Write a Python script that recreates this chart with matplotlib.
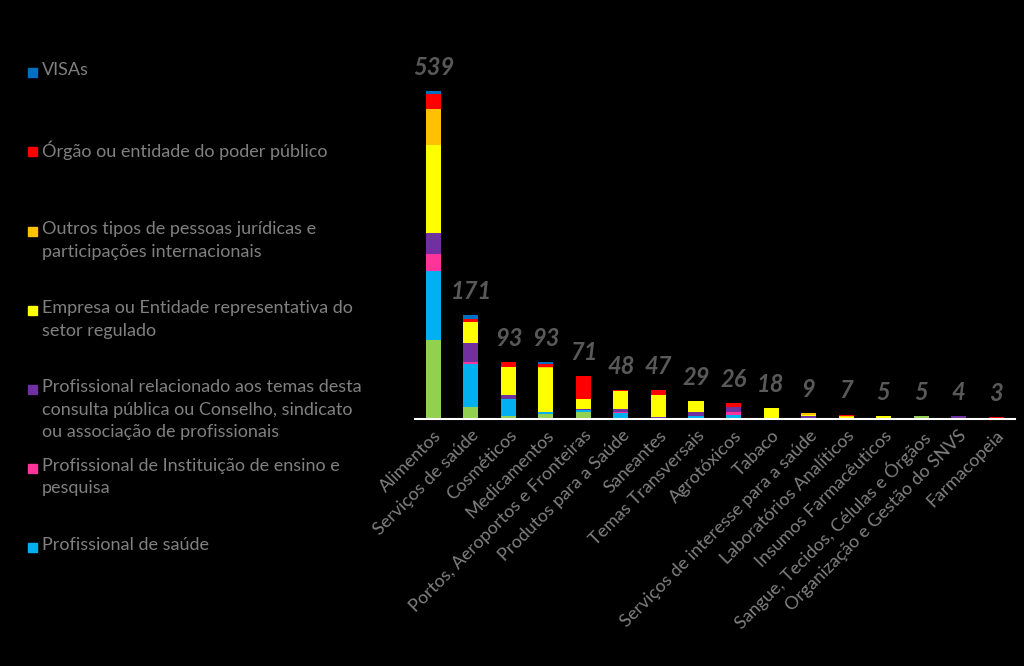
import matplotlib.pyplot as plt
import numpy as np
from matplotlib.patches import Rectangle

plt.rcParams['font.family'] = ['Lato', 'DejaVu Sans']

categories = ['Alimentos', 'Serviços de saúde', 'Cosméticos', 'Medicamentos',
              'Portos, Aeroportos e Fronteiras', 'Produtos para a Saúde', 'Saneantes',
              'Temas Transversais', 'Agrotóxicos', 'Tabaco',
              'Serviços de interesse para a saúde', 'Laboratórios Analíticos',
              'Insumos Farmacêuticos', 'Sangue, Tecidos, Células e Órgãos',
              'Organização e Gestão do SNVS', 'Farmacopeia']

# series from bottom to top of each stack
cidadao      = [130, 19, 5, 8, 11, 0, 0, 0, 0, 0, 0, 0, 0, 5, 0, 0]
prof_saude   = [113, 72, 27, 3, 3, 9, 0, 5, 7, 0, 0, 0, 0, 0, 0, 0]
prof_ensino  = [28, 3, 0, 0, 0, 2, 0, 0, 4, 2, 0, 0, 0, 0, 0, 0]
prof_temas   = [34, 30, 7, 0, 3, 5, 3, 7, 8, 0, 5, 0, 0, 0, 4, 0]
empresa      = [145, 36, 47, 73, 15, 30, 37, 17, 0, 16, 2, 3, 5, 0, 0, 0]
outros       = [59, 0, 0, 2, 0, 0, 0, 0, 0, 0, 2, 2, 0, 0, 0, 0]
orgao        = [25, 4, 7, 4, 39, 2, 7, 0, 7, 0, 0, 2, 0, 0, 0, 3]
visas        = [5, 7, 0, 3, 0, 0, 0, 0, 0, 0, 0, 0, 0, 0, 0, 0]

series = [cidadao, prof_saude, prof_ensino, prof_temas, empresa, outros, orgao, visas]
series_names = ['Cidadão', 'Profissional de saúde',
                'Profissional de Instituição de ensino e\npesquisa',
                'Profissional relacionado aos temas desta\nconsulta pública ou Conselho, sindicato\nou associação de profissionais',
                'Empresa ou Entidade representativa do\nsetor regulado',
                'Outros tipos de pessoas jurídicas e\nparticipações internacionais',
                'Órgão ou entidade do poder público',
                'VISAs']
colors = ['#92D050', '#00B0F0', '#FF3399', '#7030A0', '#FFFF00', '#FFC000', '#FF0000', '#0070C0']
totals = [539, 171, 93, 93, 71, 48, 47, 29, 26, 18, 9, 7, 5, 5, 4, 3]

fig = plt.figure(figsize=(10.24, 6.66), dpi=100, facecolor='black')
ax = fig.add_axes([0.405, 0.371, 0.586, 0.548], facecolor='black')

x = np.arange(len(categories))
bottom = np.zeros(len(categories))
for vals, col in zip(series, colors):
    ax.bar(x, vals, bottom=bottom, width=0.4, color=col, linewidth=0)
    bottom += np.array(vals)

for xi, t in zip(x, totals):
    ax.text(xi, t + 20, str(t), ha='center', va='bottom', color='#595959',
            fontsize=17, fontweight='bold', fontstyle='italic')

ax.set_xlim(-0.5, len(categories) - 0.5)
ax.set_ylim(0, 600)
for s in ['top', 'right', 'left']:
    ax.spines[s].set_visible(False)
ax.spines['bottom'].set_color('white')
ax.spines['bottom'].set_linewidth(1.5)
ax.set_yticks([])
ax.set_xticks(x)
ax.set_xticklabels(categories, rotation=45, ha='right', rotation_mode='anchor',
                   color='#808080', fontsize=13)
ax.tick_params(axis='x', length=0, pad=6)

# legend drawn by hand on the left (green series has no entry)
leg_y = [72, 151, 231, 310, 389, 468, 547]
leg_idx = [7, 6, 5, 4, 3, 2, 1]
W, H = 1024, 666
for yy, i in zip(leg_y, leg_idx):
    fig.patches.append(Rectangle((28 / W, 1 - (yy + 4.5) / H), 9 / W, 9 / H,
                                 transform=fig.transFigure, color=colors[i]))
    fig.text(42 / W, 1 - (yy - 10) / H, series_names[i], ha='left', va='top',
             color='#808080', fontsize=13, linespacing=1.5)

fig.savefig('out.png', dpi=100, facecolor='black')
